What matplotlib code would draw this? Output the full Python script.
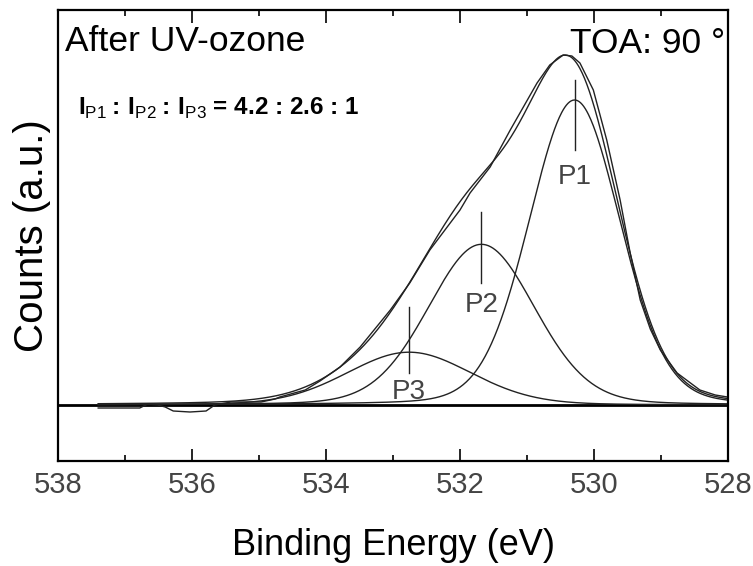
import numpy as np
import matplotlib
matplotlib.use("Agg")
import matplotlib.pyplot as plt
from matplotlib.ticker import MultipleLocator

plt.rcParams['font.family'] = ['Liberation Sans', 'DejaVu Sans']
plt.rcParams['mathtext.fontset'] = 'custom'
plt.rcParams['mathtext.rm'] = 'Liberation Sans'
plt.rcParams['mathtext.bf'] = 'Liberation Sans:bold'

# O 1s spectrum after UV-ozone, background subtracted (eV, counts a.u.)
energy = [537.40, 537.07, 536.78, 536.66, 536.51, 536.40, 536.28, 536.03,
          535.79, 535.66, 535.42, 534.97, 534.76, 534.69, 534.31, 534.09,
          533.79, 533.49, 533.04, 532.75, 532.45, 532.00, 531.85, 531.55,
          531.25, 530.85, 530.66, 530.46, 530.33, 530.21, 530.01, 529.81,
          529.61, 529.46, 529.31, 529.16, 529.01, 528.76, 528.42, 528.19,
          528.01]
counts = [-3, -3, -3, 1, 0, -2, -6, -7,
          -6, 0, 3, 3, 6, 8, 15, 24,
          38, 58, 95, 122, 155, 195, 212, 238,
          275, 322, 340, 350, 349, 342, 315, 265,
          205, 152, 105, 76, 55, 32, 15, 10,
          8]

# fitted components
peak_names = ['P1', 'P2', 'P3']
peak_centers = [530.29, 531.68, 532.76]
peak_fwhm = [1.60, 1.88, 2.20]
area_ratio = [4.2, 2.6, 1.0]
p1_height = 305
gl_mix = 0.12


def pseudo_voigt(x, center, height, fwhm, eta):
    u = (x - center) / fwhm
    gauss = np.exp(-4 * np.log(2) * u ** 2)
    lorentz = 1.0 / (1.0 + 4 * u ** 2)
    return height * ((1 - eta) * gauss + eta * lorentz)


# heights follow from the area ratio and the widths
rel = np.array(area_ratio) / np.array(peak_fwhm)
heights = rel / rel[0] * p1_height

x = np.linspace(537.4, 528.0, 800)
comps = [pseudo_voigt(x, c, h, w, gl_mix)
         for c, h, w in zip(peak_centers, heights, peak_fwhm)]
fit = np.sum(comps, axis=0)

fig = plt.figure(figsize=(7.53, 5.66), dpi=100)
ax = fig.add_axes([58 / 753, 105 / 566, 670 / 753, 451 / 566])

line_col = '#222222'
ax.axhline(0, color='black', lw=2.0, zorder=1)
for comp in comps:
    ax.plot(x, comp, color=line_col, lw=1.0)
ax.plot(x, fit, color=line_col, lw=1.0)
ax.plot(energy, counts, color=line_col, lw=1.0)

# peak position markers and names
marker_spans = [(255, 325), (122, 193), (32, 98)]
label_heights = [228, 100, 13]
for name, c, span, lh in zip(peak_names, peak_centers, marker_spans, label_heights):
    ax.plot([c, c], span, color=line_col, lw=1.0)
    ax.text(c, lh, name, ha='center', va='center', fontsize=20, color='#444444')

ax.set_xlim(538, 528)
ax.set_ylim(-56, 395)
ax.xaxis.set_major_locator(MultipleLocator(2))
ax.xaxis.set_minor_locator(MultipleLocator(1))
ax.set_yticks([])
ax.tick_params(axis='x', which='both', direction='in', top=True, bottom=True,
               width=1.2, colors='black', labelcolor='#444444', labelsize=21, pad=7)
ax.tick_params(axis='x', which='major', length=9)
ax.tick_params(axis='x', which='minor', length=4.5)
for sp in ax.spines.values():
    sp.set_linewidth(1.6)

ax.set_xlabel('Binding Energy (eV)', fontsize=26, labelpad=21)
ax.set_ylabel('Counts (a.u.)', fontsize=29, labelpad=5)

ax.text(0.0104, 0.967, 'After UV-ozone', transform=ax.transAxes,
        ha='left', va='top', fontsize=25.5)
ax.text(0.9955, 0.962, 'TOA: 90 °', transform=ax.transAxes,
        ha='right', va='top', fontsize=25.5)
ratio_text = (r'$\mathbf{I}_{\mathrm{P1}}\mathbf{:}\,\mathbf{I}_{\mathrm{P2}}\mathbf{:}\,'
              r'\mathbf{I}_{\mathrm{P3}}$ = '
              + ' : '.join('{:g}'.format(r) for r in area_ratio))
ax.text(0.0299, 0.767, ratio_text, transform=ax.transAxes,
        ha='left', va='baseline', fontsize=17.5, fontweight='bold')

fig.savefig('out.png', dpi=100)
